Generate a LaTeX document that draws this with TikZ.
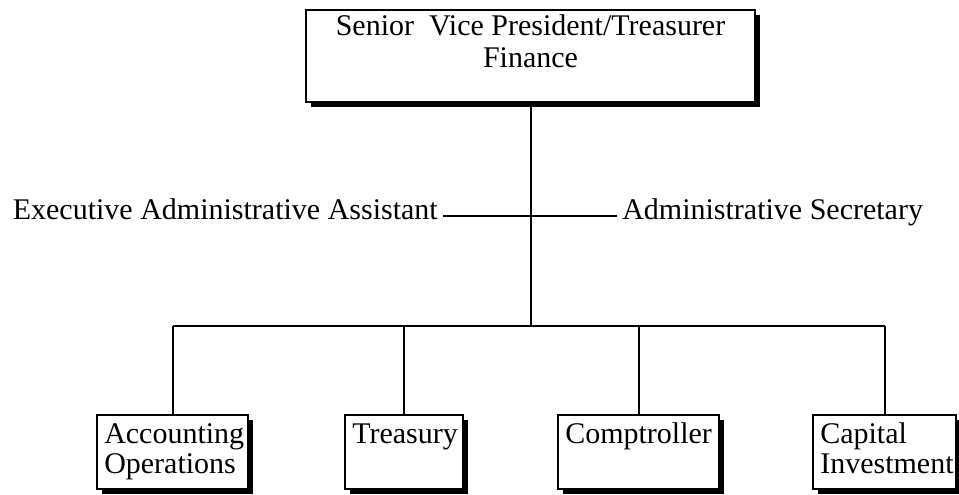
\documentclass[tikz,border=0pt]{standalone}
\usepackage{fontspec}
\setmainfont{Liberation Serif}
\usetikzlibrary{shadows}
\begin{document}
\begin{tikzpicture}[x=0.75pt,y=-0.75pt,
  orgbox/.style={draw, line width=1.5pt, fill=white,
    drop shadow={shadow xshift=4pt, shadow yshift=-4pt, fill=black, opacity=1},
    inner sep=0pt, minimum height=55.5pt},
  boxtxt/.style={anchor=north west, align=left, inner sep=0pt,
    font=\fontsize{22.5}{22.5}\selectfont, xshift=6pt, yshift=-6.5pt},
  toptxt/.style={anchor=north, align=center, inner sep=0pt,
    font=\fontsize{22.5}{24.5}\selectfont, yshift=-3.75pt},
  conn/.style={line width=1.5pt},
  side/.style={font=\fontsize{22.5}{24}\selectfont, text height=0.7em,
    text depth=0.25em, inner xsep=3.75pt, inner ysep=0pt}
]
\useasboundingbox (0,0) rectangle (959,494);
\fill[white] (0,0) rectangle (959,494);

\node[orgbox, minimum width=336.75pt, minimum height=69pt,
  label={[toptxt]north:{Senior\ \ Vice President/Treasurer\\Finance}}]
  (top) at (530.5,56) {};

\node[orgbox, minimum width=113.25pt,
  label={[boxtxt]north west:{\strut Accounting\\Operations}}] (acc) at (172.5,452) {};
\node[orgbox, minimum width=88.5pt,
  label={[boxtxt]north west:{\strut Treasury}}] (tre) at (404,452) {};
\node[orgbox, minimum width=120.75pt,
  label={[boxtxt]north west:{\strut Comptroller}}] (com) at (638.5,452) {};
\node[orgbox, minimum width=107.25pt,
  label={[boxtxt]north west:{\strut Capital\\Investment}}] (cap) at (884.5,452) {};

\node[side, anchor=east] (ea) at (443,216) {Executive Administrative Assistant};
\node[side, anchor=west] (as) at (617,216) {Administrative Secretary};

\coordinate (bus) at (530.5,326);
\draw[conn] (top.south) -- (top.south |- bus);
\draw[conn] (acc.north |- bus) -- (cap.north |- bus);
\foreach \n in {acc,tre,com,cap} \draw[conn] (\n.north |- bus) -- (\n.north);
\draw[conn] (ea.east) -- (as.west);
\end{tikzpicture}
\end{document}
